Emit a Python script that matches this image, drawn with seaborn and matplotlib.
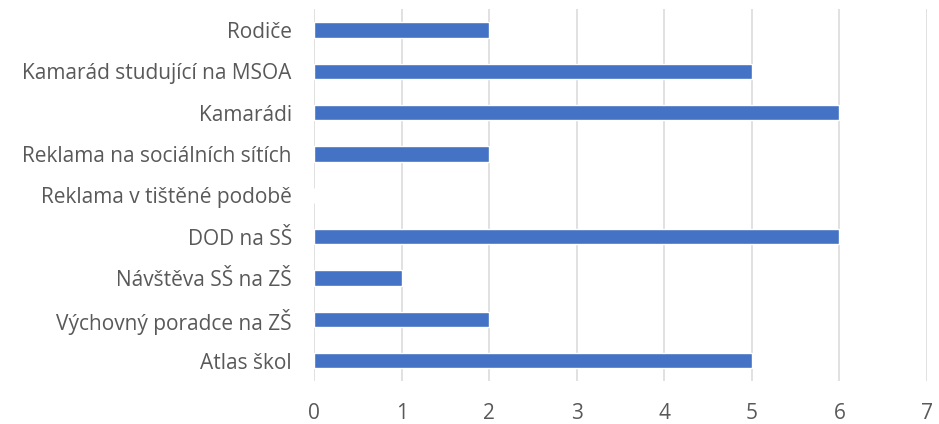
import matplotlib
matplotlib.use('Agg')
import pandas as pd
import matplotlib.pyplot as plt
import seaborn as sns

categories = ["Rodiče", "Kamarád studující na MSOA", "Kamarádi",
              "Reklama na sociálních sítích", "Reklama v tištěné podobě",
              "DOD na SŠ", "Návštěva SŠ na ZŠ", "Výchovný poradce na ZŠ",
              "Atlas škol"]
values = [2, 5, 6, 2, 0, 6, 1, 2, 5]
x_ticks = [0, 1, 2, 3, 4, 5, 6, 7]

df = pd.DataFrame({"kategorie": categories, "pocet": values})

sns.set_style("white")
plt.rcParams['font.family'] = ['Open Sans', 'DejaVu Sans']

fig = plt.figure(figsize=(9.39, 4.24), dpi=100)
ax = fig.add_axes([0.3344, 0.101, 0.6528, 0.877])

sns.barplot(data=df, x="pocet", y="kategorie", order=categories,
            color="#4472C4", saturation=1, width=0.37, ax=ax)

ax.set_xlim(0, 7)
ax.set_xticks(x_ticks)
ax.set_xlabel("")
ax.set_ylabel("")
ax.grid(axis="x", color="#d9d9d9", linewidth=1.1)
ax.set_axisbelow(True)
for s in ax.spines.values():
    s.set_visible(False)
ax.tick_params(axis="both", length=0, labelsize=15, colors="#595959")
ax.tick_params(axis="x", pad=16)
ax.tick_params(axis="y", pad=16)

fig.savefig("out.png", dpi=100)
